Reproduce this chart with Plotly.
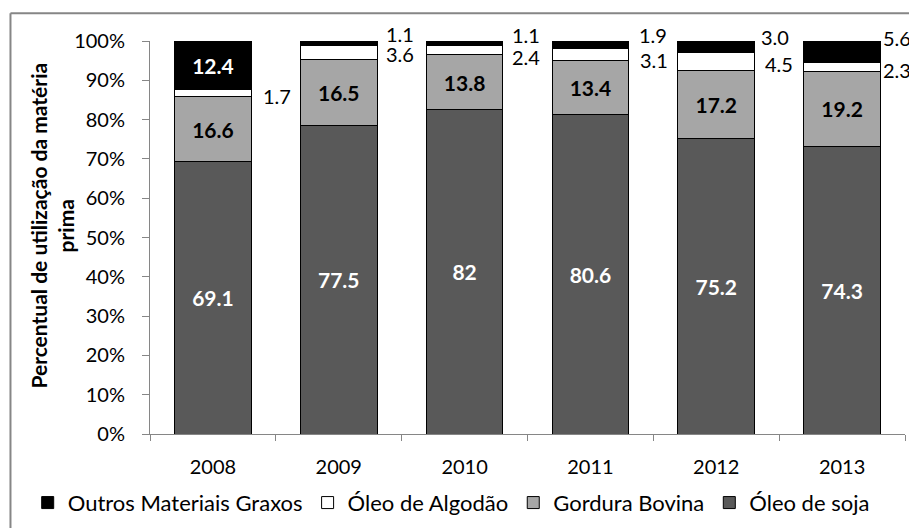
import plotly.graph_objects as go

# Raw-material share of biodiesel production (%)
anos = ["2008", "2009", "2010", "2011", "2012", "2013"]
oleo_soja = [69.1, 77.5, 82, 80.6, 75.2, 74.3]
gordura_bovina = [16.6, 16.5, 13.8, 13.4, 17.2, 19.2]
oleo_algodao = [1.7, 3.6, 2.4, 3.1, 4.5, 2.3]
outros_graxos = [12.4, 1.1, 1.1, 1.9, 3.0, 5.6]

FONT = "Lato, Carlito, Calibri, sans-serif"
AXIS_GREY = "#868686"

# Which "Outros" values are printed inside the bar (the rest go beside it)
outros_inside = [True, False, False, False, False, False]

# Pixel nudges for the labels set beside the bars: (dx, dy)
nudge_outros = [(0, 0), (7, 9), (7, 8), (8, 10), (4, 10), (0, 14)]
nudge_algodao = [(10, -3), (7, -1), (7, -7), (9, -5), (8, -2), (0, -3)]

fig = go.Figure()


def fmt(v):
    return f"{v}"


series = [
    ("Óleo de soja", oleo_soja, "#595959", "white"),
    ("Gordura Bovina", gordura_bovina, "#a6a6a6", "black"),
    ("Óleo de Algodão", oleo_algodao, "#ffffff", "black"),
    ("Outros Materiais Graxos", outros_graxos, "#000000", "white"),
]

for name, vals, color, txtcolor in series:
    if name == "Óleo de Algodão":
        texts = [""] * len(vals)
    elif name == "Outros Materiais Graxos":
        texts = [fmt(v) if inside else "" for v, inside in zip(vals, outros_inside)]
    else:
        texts = [fmt(v) for v in vals]
    fig.add_trace(go.Bar(
        name=name,
        x=anos,
        y=vals,
        text=texts,
        textposition="inside",
        insidetextanchor="middle",
        textangle=0,
        constraintext="none",
        textfont=dict(family=FONT, size=21, color=txtcolor, weight="bold"),
        marker=dict(color=color, line=dict(color="#000000", width=1)),
        hoverinfo="skip",
    ))

# Labels placed to the right of the thin top segments, at segment centres
BAR_HALF_PX = 38.5
annotations = []
for i, ano in enumerate(anos):
    total = oleo_soja[i] + gordura_bovina[i] + oleo_algodao[i] + outros_graxos[i]
    base_alg = (oleo_soja[i] + gordura_bovina[i]) / total * 100
    alg_mid = base_alg + oleo_algodao[i] / total * 50
    base_out = base_alg + oleo_algodao[i] / total * 100
    out_mid = base_out + outros_graxos[i] / total * 50
    dx, dy = nudge_algodao[i]
    annotations.append(dict(
        x=i, y=alg_mid, xref="x", yref="y", text=fmt(oleo_algodao[i]),
        showarrow=False, xanchor="left", yanchor="middle",
        xshift=BAR_HALF_PX + dx, yshift=dy,
        font=dict(family=FONT, size=20, color="#000000"),
    ))
    if not outros_inside[i]:
        dx, dy = nudge_outros[i]
        annotations.append(dict(
            x=i, y=out_mid, xref="x", yref="y", text=fmt(outros_graxos[i]),
            showarrow=False, xanchor="left", yanchor="middle",
            xshift=BAR_HALF_PX + dx, yshift=dy,
            font=dict(family=FONT, size=20, color="#000000"),
        ))

annotations.append(dict(
    x=-0.13, y=0.53, xref="paper", yref="paper",
    text="Percentual de utilização da matéria<br>prima",
    textangle=-90, showarrow=False, xanchor="center", yanchor="middle",
    font=dict(family=FONT, size=21, color="#000000", weight="bold"),
))

fig.update_layout(
    barmode="stack",
    barnorm="percent",
    bargap=0.39,
    width=909,
    height=528,
    margin=dict(l=150, r=4, t=41, b=89),
    paper_bgcolor="white",
    plot_bgcolor="white",
    font=dict(family=FONT, size=20, color="#000000"),
    showlegend=True,
    legend=dict(
        orientation="h",
        traceorder="reversed",
        x=-0.162, xanchor="left",
        y=-0.175, yanchor="middle",
        font=dict(family=FONT, size=22, color="#000000"),
        itemclick=False,
    ),
    annotations=annotations,
    shapes=[
        dict(type="line", xref="paper", yref="paper", x0=-0.1848, x1=1.1,
             y0=1.0704, y1=1.0704, line=dict(color=AXIS_GREY, width=2)),
        dict(type="line", xref="paper", yref="paper", x0=-0.1848, x1=-0.1848,
             y0=1.0704, y1=-0.4, line=dict(color=AXIS_GREY, width=2)),
    ],
)

fig.update_xaxes(
    type="category",
    range=[-0.5, len(anos) - 0.5],
    tickson="boundaries",
    ticks="outside",
    ticklen=6,
    tickcolor=AXIS_GREY,
    showline=True,
    linecolor=AXIS_GREY,
    linewidth=1,
    showgrid=False,
    ticklabelstandoff=15,
    tickfont=dict(family=FONT, size=20, color="#000000"),
)

fig.update_yaxes(
    range=[0, 100],
    dtick=10,
    ticksuffix="%",
    ticks="outside",
    ticklen=7,
    tickcolor=AXIS_GREY,
    showline=True,
    linecolor=AXIS_GREY,
    linewidth=1,
    showgrid=False,
    zeroline=False,
    ticklabelstandoff=13,
    tickfont=dict(family=FONT, size=20, color="#000000"),
)

fig.write_html("out.html")
